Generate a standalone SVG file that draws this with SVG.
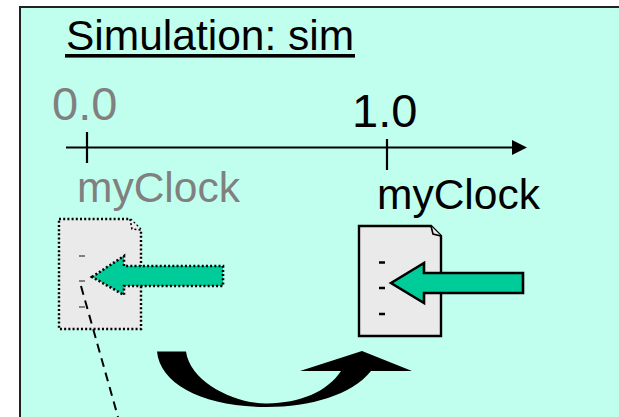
<svg xmlns="http://www.w3.org/2000/svg" width="619" height="417" viewBox="0 0 619 417">
<defs>
<marker id="tip" markerUnits="userSpaceOnUse" markerWidth="16" markerHeight="16" refX="0" refY="8" orient="auto"><path d="M0 0.500L15 8L0 15.500Z" fill="#000"/></marker>
</defs>
<style>
text{font-family:"Liberation Sans",Arial,sans-serif}
.t{font-size:42.500px}.n{font-size:47px}
.old{fill:#808080}.cur{fill:#000}
.doc{fill:#eaeaea;stroke:#000;stroke-width:2.4}
.f{fill:#eaeaea;stroke:#000;stroke-width:1.6}
.arr{fill:#00cc99;stroke:#000;stroke-width:2.6}
.dot{stroke-dasharray:2 2.2}
</style>
<rect x="0" y="0" width="619" height="417" fill="#fff"/>
<rect id="frame" x="20" y="7" width="620" height="430" fill="#c0ffee" stroke="#222" stroke-width="2"/>
<g id="title"><text class="t cur" x="66" y="50">Simulation: sim</text><rect x="65" y="54" width="290" height="3.6" fill="#000"/></g>
<g id="timeline">
<text class="n old" x="52" y="120.300">0.0</text>
<text class="n cur" x="352" y="127">1.0</text>
<path d="M66 147.500H512" stroke="#000" stroke-width="2.200" marker-end="url(#tip)" fill="none"/>
<path d="M87 132V163M387 139V170" stroke="#000" stroke-width="2.200" fill="none"/>
</g>
<g id="clock-old"><text class="t old" x="77" y="201.500">myClock</text></g>
<g id="clock-new"><text class="t cur" x="377" y="208.500">myClock</text></g>
<g id="doc-old">
<path class="doc dot" d="M59 219H130L141 230V329H59Z"/>
<path class="f dot" d="M130 219L132 229L141 230"/>
<path d="M79 256h6M79 281h6M79 307h6" stroke="#808080" stroke-width="2" fill="none"/>
<path class="arr dot" d="M92 277L124 256V266H223V286H124V295Z"/>
</g>
<g id="doc-new">
<path class="doc" d="M359 226H431L441 236V336H359Z"/>
<path class="f" d="M431 226L433 234L441 236"/>
<path d="M379 262.500h6M379 288h6M379 314h6" stroke="#000" stroke-width="2.400" fill="none"/>
<path class="arr" d="M391 283L424 263V273H523V293H424V303Z"/>
</g>
<g id="connectors">
<path d="M81 286L118 417" stroke="#000" stroke-width="2" stroke-dasharray="9 6" fill="none"/>
<path d="M157 351.500H186C190 382 235 404 267 403.500C300 403 327 392 341 371H300L362 351L412 371H371C352 395 310 407 267 407C205 407 160 385 157 351.500Z" fill="#000"/>
</g>
</svg>
